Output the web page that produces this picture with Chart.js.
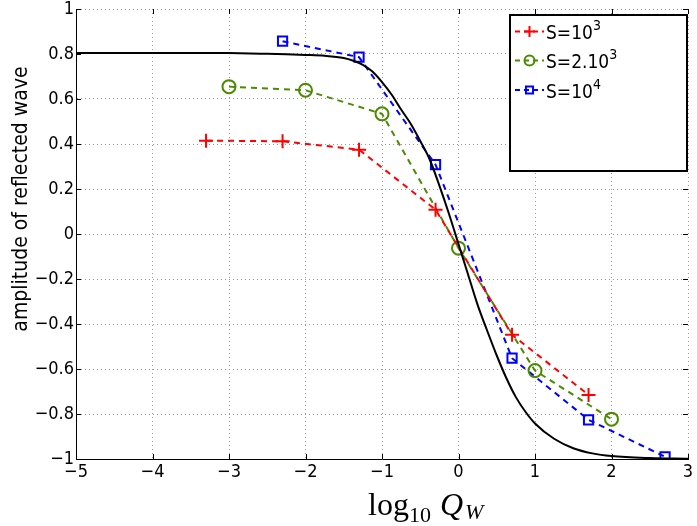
<!DOCTYPE html>
<html>
<head>
<meta charset="utf-8">
<script src="https://cdn.jsdelivr.net/npm/chart.js@4/dist/chart.umd.min.js"></script>
<style>
  body { margin: 0; background: #fff; }
</style>
</head>
<body>
<canvas id="myChart" width="697" height="526"></canvas>
<script>
// black reference curve
const curveX = [-5, -4, -3, -2.5, -2.25, -2, -1.75, -1.5, -1.375, -1.25, -1.125, -1, -0.875, -0.75, -0.625, -0.5, -0.375, -0.25, -0.125, 0, 0.125, 0.25, 0.375, 0.5, 0.625, 0.75, 0.875, 1, 1.25, 1.5, 1.75, 2, 2.5, 3];
const curveY = [0.805, 0.805, 0.804, 0.801, 0.799, 0.796, 0.792, 0.782, 0.77, 0.752, 0.722, 0.675, 0.62, 0.553, 0.49, 0.413, 0.33, 0.215, 0.09, -0.045, -0.18, -0.315, -0.43, -0.54, -0.64, -0.725, -0.79, -0.842, -0.91, -0.952, -0.975, -0.987, -0.996, -0.999];

// S = 10^3
const xS1 = [-3.3, -2.3, -1.3, -0.3, 0.7, 1.7];
const yS1 = [0.415, 0.412, 0.375, 0.108, -0.448, -0.715];
// S = 2.10^3
const xS2 = [-3, -2, -1, 0, 1, 2];
const yS2 = [0.655, 0.639, 0.534, -0.063, -0.607, -0.823];
// S = 10^4
const xS3 = [-2.3, -1.3, -0.3, 0.7, 1.7, 2.7];
const yS3 = [0.857, 0.786, 0.308, -0.552, -0.826, -0.99];

const legendBase = ['S=10', 'S=2.10', 'S=10'];
const legendSup = ['3', '3', '4'];

const xTicks = [-5, -4, -3, -2, -1, 0, 1, 2, 3];
const yTicks = [-1, -0.8, -0.6, -0.4, -0.2, 0, 0.2, 0.4, 0.6, 0.8, 1];

function pts (xs, ys) {
  return xs.map((v, i) => ({ x: v, y: ys[i] }))
}

function fmt (v) {
  const n = Math.round(v * 10) / 10;
  if (n === 0) return '0';
  return String(n).replace('-', '\u2212');
}

const sans = '"DejaVu Sans Condensed", "DejaVu Sans"';
const tickFont = { family: sans, size: 18 };

const extras = {
  id: 'extras',
  afterDraw(chart) {
    const { ctx, chartArea: a, scales: { x, y } } = chart;
    ctx.save();

    // inner tick marks on all four sides
    ctx.strokeStyle = '#000';
    ctx.lineWidth = 1;
    ctx.beginPath();
    x.ticks.forEach(t => {
      const px = Math.round(x.getPixelForValue(t.value)) + 0.5;
      ctx.moveTo(px, a.bottom); ctx.lineTo(px, a.bottom - 5);
      ctx.moveTo(px, a.top); ctx.lineTo(px, a.top + 5);
    });
    y.ticks.forEach(t => {
      const py = Math.round(y.getPixelForValue(t.value)) + 0.5;
      ctx.moveTo(a.left, py); ctx.lineTo(a.left + 5, py);
      ctx.moveTo(a.right, py); ctx.lineTo(a.right - 5, py);
    });
    ctx.stroke();

    // legend box
    ctx.lineWidth = 2;
    ctx.strokeStyle = '#000';
    ctx.fillStyle = '#fff';
    ctx.fillRect(510, 15, 177, 156);
    ctx.strokeRect(510, 15, 177, 156);

    const rows = [31.5, 60.5, 90];
    for (let i = 0; i < 3; i++) {
      const ds = chart.data.datasets[i + 1];
      const ry = rows[i];
      ctx.save();
      ctx.strokeStyle = ds.borderColor;
      ctx.lineWidth = ds.borderWidth;
      ctx.setLineDash([5, 4]);
      ctx.beginPath();
      ctx.moveTo(515, ry); ctx.lineTo(544, ry);
      ctx.stroke();
      ctx.setLineDash([]);
      ctx.fillStyle = 'rgba(0,0,0,0)';
      ctx.strokeStyle = ds.pointBorderColor;
      ctx.lineWidth = ds.pointBorderWidth;
      Chart.helpers.drawPoint(ctx, { pointStyle: ds.pointStyle, radius: ds.pointRadius - 1.5, rotation: 0, borderWidth: ds.pointBorderWidth }, 529.5, ry);
      ctx.restore();

      ctx.fillStyle = '#000';
      ctx.textBaseline = 'alphabetic';
      ctx.textAlign = 'left';
      ctx.font = '19px ' + sans;
      ctx.fillText(legendBase[i], 546, ry + 7.5);
      const w = ctx.measureText(legendBase[i]).width;
      ctx.font = '14px ' + sans;
      ctx.fillText(legendSup[i], 546 + w, ry - 1.5);
    }

    // y axis title
    ctx.save();
    ctx.translate(22, 199);
    ctx.rotate(-Math.PI / 2);
    ctx.font = '21px ' + sans;
    ctx.textAlign = 'center';
    ctx.textBaseline = 'middle';
    ctx.fillStyle = '#000';
    ctx.fillText('amplitude of reflected wave', 0, 0);
    ctx.restore();

    // x axis title: log10 Q_W
    ctx.fillStyle = '#000';
    ctx.textAlign = 'left';
    ctx.textBaseline = 'alphabetic';
    const serif = '"Liberation Serif", "DejaVu Serif"';
    ctx.font = '32px ' + serif;
    ctx.fillText('log', 368, 515);
    ctx.font = '22px ' + serif;
    ctx.fillText('10', 409, 522);
    ctx.font = 'italic 32px ' + serif;
    ctx.fillText('Q', 440, 515);
    ctx.font = 'italic 22px ' + serif;
    ctx.fillText('W', 465, 519);

    ctx.restore();
  }
};

new Chart(document.getElementById('myChart'), {
  type: 'line',
  data: {
    datasets: [{
      data: pts(curveX, curveY),
      borderColor: '#000',
      borderWidth: 2,
      pointRadius: 0,
      cubicInterpolationMode: 'monotone'
    }, {
      data: pts(xS1, yS1),
      borderColor: '#ff0000',
      borderWidth: 2,
      borderDash: [6, 5],
      pointStyle: 'cross',
      pointRadius: 7,
      pointBorderWidth: 2,
      pointBorderColor: '#ff0000',
      pointBackgroundColor: 'rgba(0,0,0,0)'
    }, {
      data: pts(xS2, yS2),
      borderColor: '#4c8a00',
      borderWidth: 2,
      borderDash: [6, 5],
      pointStyle: 'circle',
      pointRadius: 6.5,
      pointBorderWidth: 2,
      pointBorderColor: '#4c8a00',
      pointBackgroundColor: 'rgba(0,0,0,0)'
    }, {
      data: pts(xS3, yS3),
      borderColor: '#0000ff',
      borderWidth: 2,
      borderDash: [6, 5],
      pointStyle: 'rect',
      pointRadius: 6.5,
      pointBorderWidth: 2,
      pointBorderColor: '#0000ff',
      pointBackgroundColor: 'rgba(0,0,0,0)'
    }]
  },
  options: {
    responsive: false,
    animation: false,
    devicePixelRatio: 1,
    layout: { padding: { top: 9, right: 5, left: 0, bottom: 0 } },
    plugins: { legend: { display: false }, tooltip: { enabled: false } },
    scales: {
      x: {
        type: 'linear',
        min: -5,
        max: 3,
        afterBuildTicks: s => { s.ticks = xTicks.map(v => ({ value: v })) },
        afterFit: s => { s.height = 67; s.paddingLeft = 0; s.paddingRight = 0 },
        ticks: { color: '#000', font: tickFont, padding: 3, maxRotation: 0, callback: fmt },
        grid: { color: '#9a9a9a', lineWidth: 1, drawTicks: false },
        border: { color: '#000', width: 1, dash: [1, 3] }
      },
      y: {
        min: -1,
        max: 1,
        afterBuildTicks: s => { s.ticks = yTicks.map(v => ({ value: v })) },
        afterFit: s => { s.width = 76; s.paddingTop = 0; s.paddingBottom = 0 },
        ticks: { color: '#000', font: tickFont, padding: 2, callback: fmt },
        grid: { color: '#9a9a9a', lineWidth: 1, drawTicks: false },
        border: { color: '#000', width: 1, dash: [1, 3] }
      }
    }
  },
  plugins: [extras]
});
</script>
</body>
</html>
